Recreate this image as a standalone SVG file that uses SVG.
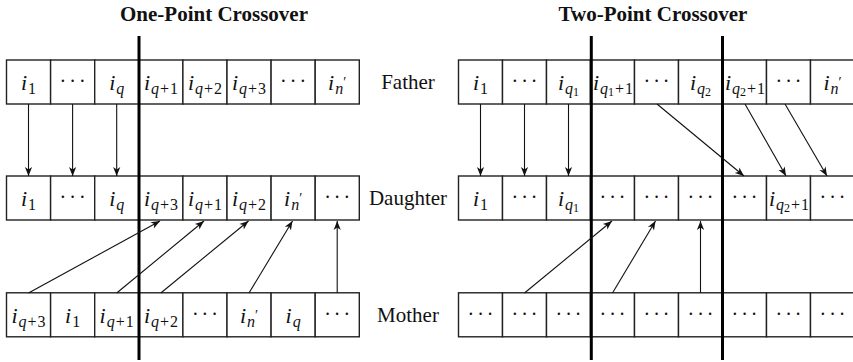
<svg xmlns="http://www.w3.org/2000/svg" width="853" height="362" viewBox="0 0 853 362">
<style>
.bg{fill:#fff}
.cell{fill:#fff;stroke:#222;stroke-width:1.4}
.m{font-family:"Liberation Serif",serif;font-style:italic;font-size:22px;text-anchor:middle;fill:#111}
.s{font-size:16px}
.ss{font-size:12px}
.pr{font-size:14px}
.u{font-style:normal}
.dots{font-family:"Liberation Serif",serif;font-size:20px;letter-spacing:3px;text-anchor:middle;fill:#111}
.lbl{font-family:"Liberation Serif",serif;font-size:21px;text-anchor:middle;fill:#111}
.title{font-family:"Liberation Serif",serif;font-weight:bold;font-size:21px;text-anchor:middle;fill:#111}
.div{stroke:#000;stroke-width:3}
.arr{stroke:#111;stroke-width:1.1;fill:none;marker-end:url(#ah)}
</style>
<defs>
<marker id="ah" markerUnits="userSpaceOnUse" viewBox="-10 -5 11 10" refX="0" refY="0" markerWidth="11" markerHeight="10" orient="auto">
<path d="M0,0 L-9,-3.6 L-6.5,0 L-9,3.6 Z" fill="#111"/>
</marker>
</defs>
<rect class="bg" x="0" y="0" width="853" height="362"/>

<text class="title" x="214" y="21">One-Point Crossover</text>
<text class="title" x="653" y="21">Two-Point Crossover</text>

<!-- LEFT: Father -->
<g id="L-father">
<g id="L-f1"><rect class="cell" x="6.5" y="60" width="44.1" height="44"/><text class="m" x="28.5" y="90">i<tspan class="s u" dx="1" dy="4">1</tspan></text></g>
<g id="L-f2"><rect class="cell" x="50.6" y="60" width="44.1" height="44"/><text class="dots" x="74.1" y="88">···</text></g>
<g id="L-f3"><rect class="cell" x="94.7" y="60" width="44.1" height="44"/><text class="m" x="116.7" y="90">i<tspan class="s" dx="1" dy="4">q</tspan></text></g>
<g id="L-f4"><rect class="cell" x="138.8" y="60" width="44.1" height="44"/><text class="m" x="161" y="90">i<tspan class="s" dx="1" dy="4">q</tspan><tspan class="s u" dx="1">+</tspan><tspan class="s u" dx="1">1</tspan></text></g>
<g id="L-f5"><rect class="cell" x="182.9" y="60" width="44.1" height="44"/><text class="m" x="205" y="90">i<tspan class="s" dx="1" dy="4">q</tspan><tspan class="s u" dx="1">+</tspan><tspan class="s u" dx="1">2</tspan></text></g>
<g id="L-f6"><rect class="cell" x="227" y="60" width="44.1" height="44"/><text class="m" x="249" y="90">i<tspan class="s" dx="1" dy="4">q</tspan><tspan class="s u" dx="1">+</tspan><tspan class="s u" dx="1">3</tspan></text></g>
<g id="L-f7"><rect class="cell" x="271.1" y="60" width="44.1" height="44"/><text class="dots" x="294.6" y="88">···</text></g>
<g id="L-f8"><rect class="cell" x="315.2" y="60" width="44.1" height="44"/><text class="m" x="337.2" y="90">i<tspan class="s" dx="1" dy="4">n</tspan><tspan class="pr u" dy="-7">′</tspan></text></g>
<text class="lbl" x="408" y="89">Father</text>
</g>

<!-- LEFT: Daughter -->
<g id="L-daughter">
<g id="L-d1"><rect class="cell" x="6.5" y="176" width="44.1" height="44"/><text class="m" x="28.5" y="206">i<tspan class="s u" dx="1" dy="4">1</tspan></text></g>
<g id="L-d2"><rect class="cell" x="50.6" y="176" width="44.1" height="44"/><text class="dots" x="74.1" y="204">···</text></g>
<g id="L-d3"><rect class="cell" x="94.7" y="176" width="44.1" height="44"/><text class="m" x="116.7" y="206">i<tspan class="s" dx="1" dy="4">q</tspan></text></g>
<g id="L-d4"><rect class="cell" x="138.8" y="176" width="44.1" height="44"/><text class="m" x="161" y="206">i<tspan class="s" dx="1" dy="4">q</tspan><tspan class="s u" dx="1">+</tspan><tspan class="s u" dx="1">3</tspan></text></g>
<g id="L-d5"><rect class="cell" x="182.9" y="176" width="44.1" height="44"/><text class="m" x="205" y="206">i<tspan class="s" dx="1" dy="4">q</tspan><tspan class="s u" dx="1">+</tspan><tspan class="s u" dx="1">1</tspan></text></g>
<g id="L-d6"><rect class="cell" x="227" y="176" width="44.1" height="44"/><text class="m" x="249" y="206">i<tspan class="s" dx="1" dy="4">q</tspan><tspan class="s u" dx="1">+</tspan><tspan class="s u" dx="1">2</tspan></text></g>
<g id="L-d7"><rect class="cell" x="271.1" y="176" width="44.1" height="44"/><text class="m" x="293.1" y="206">i<tspan class="s" dx="1" dy="4">n</tspan><tspan class="pr u" dy="-7">′</tspan></text></g>
<g id="L-d8"><rect class="cell" x="315.2" y="176" width="44.1" height="44"/><text class="dots" x="338.7" y="204">···</text></g>
<text class="lbl" x="408" y="205">Daughter</text>
</g>

<!-- LEFT: Mother -->
<g id="L-mother">
<g id="L-m1"><rect class="cell" x="6.5" y="292.8" width="44.1" height="44"/><text class="m" x="28.5" y="323">i<tspan class="s" dx="1" dy="4">q</tspan><tspan class="s u" dx="1">+</tspan><tspan class="s u" dx="1">3</tspan></text></g>
<g id="L-m2"><rect class="cell" x="50.6" y="292.8" width="44.1" height="44"/><text class="m" x="72.6" y="323">i<tspan class="s u" dx="1" dy="4">1</tspan></text></g>
<g id="L-m3"><rect class="cell" x="94.7" y="292.8" width="44.1" height="44"/><text class="m" x="116.7" y="323">i<tspan class="s" dx="1" dy="4">q</tspan><tspan class="s u" dx="1">+</tspan><tspan class="s u" dx="1">1</tspan></text></g>
<g id="L-m4"><rect class="cell" x="138.8" y="292.8" width="44.1" height="44"/><text class="m" x="161" y="323">i<tspan class="s" dx="1" dy="4">q</tspan><tspan class="s u" dx="1">+</tspan><tspan class="s u" dx="1">2</tspan></text></g>
<g id="L-m5"><rect class="cell" x="182.9" y="292.8" width="44.1" height="44"/><text class="dots" x="206.4" y="321">···</text></g>
<g id="L-m6"><rect class="cell" x="227" y="292.8" width="44.1" height="44"/><text class="m" x="249" y="323">i<tspan class="s" dx="1" dy="4">n</tspan><tspan class="pr u" dy="-7">′</tspan></text></g>
<g id="L-m7"><rect class="cell" x="271.1" y="292.8" width="44.1" height="44"/><text class="m" x="293.1" y="323">i<tspan class="s" dx="1" dy="4">q</tspan></text></g>
<g id="L-m8"><rect class="cell" x="315.2" y="292.8" width="44.1" height="44"/><text class="dots" x="338.7" y="321">···</text></g>
<text class="lbl" x="408" y="322">Mother</text>
</g>

<!-- RIGHT: Father -->
<g id="R-father">
<g id="R-f1"><rect class="cell" x="458.5" y="60" width="44" height="44"/><text class="m" x="480.5" y="90">i<tspan class="s u" dx="1" dy="4">1</tspan></text></g>
<g id="R-f2"><rect class="cell" x="502.5" y="60" width="44" height="44"/><text class="dots" x="526" y="88">···</text></g>
<g id="R-f3"><rect class="cell" x="546.5" y="60" width="44" height="44"/><text class="m" x="568.5" y="90">i<tspan class="s" dx="1" dy="4">q</tspan><tspan class="ss u" dy="2">1</tspan></text></g>
<g id="R-f4"><rect class="cell" x="590.5" y="60" width="44" height="44"/><text class="m" x="613" y="90">i<tspan class="s" dx="1" dy="4">q</tspan><tspan class="ss u" dy="2">1</tspan><tspan class="s u" dx="1" dy="-2">+</tspan><tspan class="s u" dx="1">1</tspan></text></g>
<g id="R-f5"><rect class="cell" x="634.5" y="60" width="44" height="44"/><text class="dots" x="658" y="88">···</text></g>
<g id="R-f6"><rect class="cell" x="678.5" y="60" width="44" height="44"/><text class="m" x="700.5" y="90">i<tspan class="s" dx="1" dy="4">q</tspan><tspan class="ss u" dy="2">2</tspan></text></g>
<g id="R-f7"><rect class="cell" x="722.5" y="60" width="44" height="44"/><text class="m" x="745" y="90">i<tspan class="s" dx="1" dy="4">q</tspan><tspan class="ss u" dy="2">2</tspan><tspan class="s u" dx="1" dy="-2">+</tspan><tspan class="s u" dx="1">1</tspan></text></g>
<g id="R-f8"><rect class="cell" x="766.5" y="60" width="44" height="44"/><text class="dots" x="790" y="88">···</text></g>
<g id="R-f9"><rect class="cell" x="810.5" y="60" width="44" height="44"/><text class="m" x="832.5" y="90">i<tspan class="s" dx="1" dy="4">n</tspan><tspan class="pr u" dy="-7">′</tspan></text></g>
</g>

<!-- RIGHT: Daughter -->
<g id="R-daughter">
<g id="R-d1"><rect class="cell" x="458.5" y="176" width="44" height="44"/><text class="m" x="480.5" y="206">i<tspan class="s u" dx="1" dy="4">1</tspan></text></g>
<g id="R-d2"><rect class="cell" x="502.5" y="176" width="44" height="44"/><text class="dots" x="526" y="204">···</text></g>
<g id="R-d3"><rect class="cell" x="546.5" y="176" width="44" height="44"/><text class="m" x="568.5" y="206">i<tspan class="s" dx="1" dy="4">q</tspan><tspan class="ss u" dy="2">1</tspan></text></g>
<g id="R-d4"><rect class="cell" x="590.5" y="176" width="44" height="44"/><text class="dots" x="614" y="204">···</text></g>
<g id="R-d5"><rect class="cell" x="634.5" y="176" width="44" height="44"/><text class="dots" x="658" y="204">···</text></g>
<g id="R-d6"><rect class="cell" x="678.5" y="176" width="44" height="44"/><text class="dots" x="702" y="204">···</text></g>
<g id="R-d7"><rect class="cell" x="722.5" y="176" width="44" height="44"/><text class="dots" x="746" y="204">···</text></g>
<g id="R-d8"><rect class="cell" x="766.5" y="176" width="44" height="44"/><text class="m" x="789" y="206">i<tspan class="s" dx="1" dy="4">q</tspan><tspan class="ss u" dy="2">2</tspan><tspan class="s u" dx="1" dy="-2">+</tspan><tspan class="s u" dx="1">1</tspan></text></g>
<g id="R-d9"><rect class="cell" x="810.5" y="176" width="44" height="44"/><text class="dots" x="834" y="204">···</text></g>
</g>

<!-- RIGHT: Mother -->
<g id="R-mother">
<g id="R-m1"><rect class="cell" x="458.5" y="292.8" width="44" height="44"/><text class="dots" x="482" y="321">···</text></g>
<g id="R-m2"><rect class="cell" x="502.5" y="292.8" width="44" height="44"/><text class="dots" x="526" y="321">···</text></g>
<g id="R-m3"><rect class="cell" x="546.5" y="292.8" width="44" height="44"/><text class="dots" x="570" y="321">···</text></g>
<g id="R-m4"><rect class="cell" x="590.5" y="292.8" width="44" height="44"/><text class="dots" x="614" y="321">···</text></g>
<g id="R-m5"><rect class="cell" x="634.5" y="292.8" width="44" height="44"/><text class="dots" x="658" y="321">···</text></g>
<g id="R-m6"><rect class="cell" x="678.5" y="292.8" width="44" height="44"/><text class="dots" x="702" y="321">···</text></g>
<g id="R-m7"><rect class="cell" x="722.5" y="292.8" width="44" height="44"/><text class="dots" x="746" y="321">···</text></g>
<g id="R-m8"><rect class="cell" x="766.5" y="292.8" width="44" height="44"/><text class="dots" x="790" y="321">···</text></g>
<g id="R-m9"><rect class="cell" x="810.5" y="292.8" width="44" height="44"/><text class="dots" x="834" y="321">···</text></g>
</g>

<!-- crossover points -->
<g id="cut-points">
<line class="div" x1="139" y1="36" x2="139" y2="360"/>
<line class="div" x1="591.3" y1="36" x2="591.3" y2="360"/>
<line class="div" x1="722.5" y1="36" x2="722.5" y2="360"/>
</g>

<!-- connectors -->
<g id="connectors">
<line class="arr" x1="28.5" y1="104" x2="28.5" y2="176"/>
<line class="arr" x1="72.6" y1="104" x2="72.6" y2="176"/>
<line class="arr" x1="116.7" y1="104" x2="116.7" y2="176"/>
<line class="arr" x1="28.5" y1="293" x2="160" y2="221"/>
<line class="arr" x1="116.7" y1="293" x2="204" y2="221"/>
<line class="arr" x1="160.8" y1="293" x2="248.5" y2="221"/>
<line class="arr" x1="249" y1="293" x2="292.5" y2="221"/>
<line class="arr" x1="337.2" y1="293" x2="337.2" y2="221"/>

<line class="arr" x1="480.5" y1="104" x2="480.5" y2="176"/>
<line class="arr" x1="524.5" y1="104" x2="524.5" y2="176"/>
<line class="arr" x1="568.5" y1="104" x2="568.5" y2="176"/>
<line class="arr" x1="657" y1="104" x2="744" y2="176"/>
<line class="arr" x1="745" y1="104" x2="786" y2="176"/>
<line class="arr" x1="785" y1="104" x2="827" y2="176"/>
<line class="arr" x1="524.5" y1="293" x2="612" y2="221"/>
<line class="arr" x1="612.5" y1="293" x2="655.5" y2="221"/>
<line class="arr" x1="700.5" y1="293" x2="700.5" y2="221"/>
</g>
</svg>
